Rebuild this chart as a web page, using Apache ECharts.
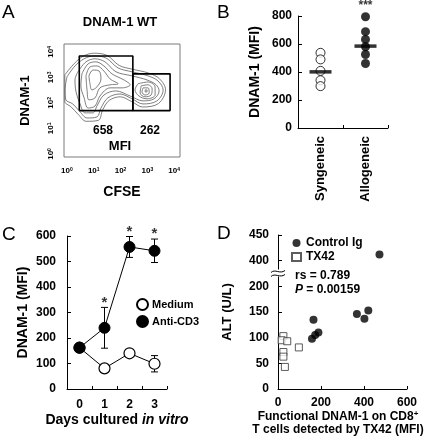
<!DOCTYPE html>
<html><head><meta charset="utf-8">
<script src="https://cdn.jsdelivr.net/npm/echarts@6/dist/echarts.min.js"></script>
<style>html,body{margin:0;padding:0;background:#fff}#c{width:424px;height:442px}</style>
</head><body><div id="c"></div>
<script>
const FONT = "'Liberation Sans', Arial, sans-serif";

// ---------- Panel A: flow-cytometry contours (log10 units of CFSE / DNAM-1) ----------
const ring0 = [[-0.08,3.10],[0.28,3.55],[0.62,3.84],[1.02,3.95],[1.50,3.86],[1.95,3.47],[2.45,3.32],[3.05,3.17],[3.45,2.95],[3.68,2.52],[3.42,1.98],[2.83,1.84],[2.42,2.05],[1.99,2.24],[1.58,2.10],[1.33,1.72],[1.18,1.32],[0.72,1.28],[0.42,1.55],[0.15,1.85],[-0.08,2.05],[-0.08,2.55]];
const ring1 = [[0.00,3.02],[0.30,3.45],[0.64,3.73],[1.01,3.84],[1.46,3.76],[1.91,3.37],[2.43,3.22],[3.03,3.06],[3.40,2.86],[3.59,2.51],[3.36,2.08],[2.84,1.96],[2.43,2.16],[1.98,2.35],[1.53,2.20],[1.27,1.80],[1.12,1.45],[0.75,1.41],[0.49,1.65],[0.22,1.96],[-0.04,2.12],[-0.07,2.51]];
const ring2 = [[0.41,3.22],[0.71,3.61],[1.05,3.73],[1.42,3.61],[1.83,3.22],[2.43,3.06],[2.99,2.90],[3.33,2.71],[3.44,2.47],[3.25,2.16],[2.84,2.08],[2.36,2.27],[1.83,2.47],[1.38,2.31],[1.12,1.88],[0.97,1.61],[0.67,1.61],[0.49,1.96],[0.34,2.43],[0.30,2.90]];
const ring3L = [[0.56,3.14],[0.79,3.53],[1.08,3.61],[1.38,3.45],[1.68,3.14],[2.13,2.90],[2.36,2.71],[2.06,2.59],[1.61,2.59],[1.23,2.27],[1.05,1.88],[0.79,1.80],[0.64,2.20],[0.52,2.67]];
const ring3R = [[2.65,2.75],[3.03,2.82],[3.29,2.63],[3.29,2.31],[2.99,2.16],[2.69,2.27],[2.54,2.51]];
const ring4L = [[0.71,3.06],[0.86,3.41],[1.12,3.45],[1.38,3.25],[1.61,2.94],[1.91,2.75],[1.61,2.71],[1.23,2.59],[1.05,2.20],[0.82,2.12],[0.75,2.51]];
const ring4R = [[2.77,2.67],[3.03,2.71],[3.18,2.55],[3.14,2.31],[2.92,2.24],[2.73,2.39]];
const ring5L = [[0.82,3.06],[0.97,3.29],[1.20,3.25],[1.27,2.94],[1.12,2.63],[0.93,2.51],[0.86,2.75]];
const ring5R = [[2.84,2.59],[3.03,2.59],[3.07,2.39],[2.92,2.31],[2.80,2.43]];
const ring6R = [[2.92,2.51],[2.99,2.51],[2.99,2.43],[2.92,2.43]];
const gateLeft = [[0.46,1.70],[2.46,1.70],[2.46,3.84],[0.46,3.84]];
const gateRight = [[2.46,1.70],[3.85,1.70],[3.85,3.14],[2.46,3.14]];
const gateMFI = ['658','262'];
const logTicks = [0,1,2,3,4];

// ---------- Panel B ----------
const groupsB = ['Syngeneic','Allogeneic'];
const syngeneic = [537,490,408,341,299];
const allogeneic = [795,688,633,580,525,461];
const medianB = [401,585];

// ---------- Panel C ----------
const days = ['0','1','2','3'];
const mediumMean = [162,81,140,99];
const mediumErr = [0,0,0,32];
const antiCD3Mean = [162,240,557,542];
const antiCD3Err = [0,80,41,46];
const starDays = [1,2,3];

// ---------- Panel D ----------
const controlX = [165,158,173,188,367,402,420,472];
const controlY = [135,98,105,110,146,137,153,412];
const tx42X = [25,17,43,97,25,25,32];
const tx42Y = [103,95,93,81,72,63,43];
const altTicks = [0,50,100,150,200,400,450];
const breakLow = 200, breakHigh = 400, breakGap = 50;

// axis break mapping for panel D (values above the break are shifted down)
function brk(v){ return v <= breakLow ? v : v - (breakHigh - breakLow) + breakGap; }
function unbrk(d){ return d <= breakLow ? d : d + (breakHigh - breakLow) - breakGap; }

const bold = {fontFamily: FONT, fontWeight: 'bold', color: '#000'};
function logLabel(v){
  const r = Math.round(v);
  if (Math.abs(v - r) > 1e-6 || logTicks.indexOf(r) < 0) return '';
  return '{b|10}{s|' + r + '}';
}
const logRich = {b:{fontFamily:FONT,fontWeight:'bold',fontSize:8,color:'#000'}, s:{fontFamily:FONT,fontWeight:'bold',fontSize:5,color:'#000',verticalAlign:'top',padding:[0,0,3,0]}};

function ringSeries(r){
  return {type:'line', xAxisIndex:0, yAxisIndex:0, data:r.concat([r[0]]), symbol:'none', smooth:0.35,
    lineStyle:{color:'#5e5e5e', width:0.8}, silent:true, z:2};
}
function gateSeries(r){
  return {type:'line', xAxisIndex:0, yAxisIndex:0, data:r.concat([r[0]]), symbol:'none', smooth:false,
    lineStyle:{color:'#000', width:1.6}, silent:true, z:3};
}
function errRender(params, api){
  const x = api.value(0), lo = api.value(1), hi = api.value(2);
  if (!(hi - lo > 0)) return null;
  const a = api.coord([x, lo]), b = api.coord([x, hi]);
  const w = 3.5, st = {stroke:'#000', lineWidth:1};
  return {type:'group', children:[
    {type:'line', shape:{x1:a[0],y1:a[1],x2:b[0],y2:b[1]}, style:st},
    {type:'line', shape:{x1:a[0]-w,y1:a[1],x2:a[0]+w,y2:a[1]}, style:st},
    {type:'line', shape:{x1:b[0]-w,y1:b[1],x2:b[0]+w,y2:b[1]}, style:st}
  ]};
}

const axisLine = {show:true, lineStyle:{color:'#000', width:1}};
const tickIn = {show:true, inside:true, length:4, lineStyle:{color:'#000'}};
const lbl = Object.assign({fontSize:12}, bold);

const series = [];
[ring0, ring1, ring2, ring3L, ring3R, ring4L, ring4R, ring5L, ring5R, ring6R].forEach(r => series.push(ringSeries(r)));
series.push(gateSeries(gateLeft), gateSeries(gateRight));

// Panel B
series.push({type:'scatter', name:'Syngeneic', xAxisIndex:1, yAxisIndex:1, data:syngeneic.map(v=>[0,v]), symbol:'circle', symbolSize:9,
  itemStyle:{color:'#fff', borderColor:'#000', borderWidth:1}, z:2});
series.push({type:'scatter', name:'Allogeneic', xAxisIndex:1, yAxisIndex:1, data:allogeneic.map(v=>[1,v]), symbol:'circle', symbolSize:9,
  itemStyle:{color:'#000'}, z:2});
series.push({type:'scatter', xAxisIndex:1, yAxisIndex:1, data:medianB.map((v,i)=>[i,v]), symbol:'rect', symbolSize:[22,3.5],
  itemStyle:{color:'#000'}, z:4});
series.push({type:'scatter', xAxisIndex:1, yAxisIndex:1, data:[[1, Math.max.apply(null, allogeneic)]], symbolSize:9,
  itemStyle:{color:'transparent'}, label:Object.assign({show:true, position:'top', distance:1, formatter:'***', fontSize:12}, bold), z:5});

// Panel C
series.push({type:'custom', xAxisIndex:2, yAxisIndex:2, renderItem:errRender, encode:{x:0,y:[1,2]},
  data:days.map((d,i)=>[i, mediumMean[i]-mediumErr[i], mediumMean[i]+mediumErr[i]]), z:1});
series.push({type:'custom', xAxisIndex:2, yAxisIndex:2, renderItem:errRender, encode:{x:0,y:[1,2]},
  data:days.map((d,i)=>[i, antiCD3Mean[i]-antiCD3Err[i], antiCD3Mean[i]+antiCD3Err[i]]), z:1});
series.push({type:'line', name:'Medium', xAxisIndex:2, yAxisIndex:2, data:mediumMean, symbol:'circle', symbolSize:11,
  lineStyle:{color:'#000', width:1}, itemStyle:{color:'#fff', borderColor:'#000', borderWidth:1.2}, z:3});
series.push({type:'line', name:'Anti-CD3', xAxisIndex:2, yAxisIndex:2, data:antiCD3Mean, symbol:'circle', symbolSize:11,
  lineStyle:{color:'#000', width:1}, itemStyle:{color:'#000', borderColor:'#000', borderWidth:1}, z:3});
series.push({type:'scatter', xAxisIndex:2, yAxisIndex:2, data:starDays.map(i=>[i, antiCD3Mean[i]+antiCD3Err[i]]), symbolSize:1,
  itemStyle:{color:'transparent'}, label:Object.assign({show:true, position:'top', distance:-3, formatter:'*', fontSize:15}, bold), z:5});

// Panel D
series.push({type:'scatter', name:'Control Ig', xAxisIndex:3, yAxisIndex:3, data:controlX.map((x,i)=>[x, brk(controlY[i])]),
  symbol:'circle', symbolSize:8, itemStyle:{color:'#000'}, z:3});
series.push({type:'scatter', name:'TX42', xAxisIndex:3, yAxisIndex:3, data:tx42X.map((x,i)=>[x, brk(tx42Y[i])]),
  symbol:'rect', symbolSize:7, itemStyle:{color:'#fff', borderColor:'#333', borderWidth:1}, z:3});

const graphics = [
  {type:'text', left:2, top:3, style:{text:'A', font:'19px ' + FONT, fill:'#000'}},
  {type:'text', left:217, top:3, style:{text:'B', font:'19px ' + FONT, fill:'#000'}},
  {type:'text', left:2, top:225, style:{text:'C', font:'19px ' + FONT, fill:'#000'}},
  {type:'text', left:217, top:224, style:{text:'D', font:'19px ' + FONT, fill:'#000'}},
  {type:'text', x:120, y:22, style:{text:'DNAM-1 WT', font:'bold 13px ' + FONT, fill:'#000', textAlign:'center', textVerticalAlign:'middle'}},
  {type:'text', x:103, y:131, style:{text:gateMFI[0], font:'bold 12px ' + FONT, fill:'#000', textAlign:'center', textVerticalAlign:'middle'}},
  {type:'text', x:150, y:131, style:{text:gateMFI[1], font:'bold 12px ' + FONT, fill:'#000', textAlign:'center', textVerticalAlign:'middle'}},
  {type:'text', x:120, y:146, style:{text:'MFI', font:'bold 13px ' + FONT, fill:'#000', textAlign:'center', textVerticalAlign:'middle'}},
  {type:'text', x:295, y:276, style:{text:'rs = 0.789', font:'bold 12px ' + FONT, fill:'#000', textVerticalAlign:'middle'}},
  {type:'text', x:295, y:290, style:{text:'{i|P}{n| = 0.00159}', textVerticalAlign:'middle',
    rich:{i:{font:'italic bold 12px ' + FONT, fill:'#000'}, n:{font:'bold 12px ' + FONT, fill:'#000'}}}}
];

const option = {
  backgroundColor:'#fff',
  animation:false,
  textStyle:{fontFamily:FONT},
  grid:[
    {left:64, top:44, width:116, height:113, show:true, borderColor:'#7a7a7a', borderWidth:1, backgroundColor:'transparent', outerBoundsMode:'none'},
    {left:298, top:16, width:90, height:112, outerBoundsMode:'none'},
    {left:67, top:236, width:100, height:153, outerBoundsMode:'none'},
    {left:278, top:235, width:129, height:154, outerBoundsMode:'none'}
  ],
  xAxis:[
    {gridIndex:0, type:'value', min:-0.11, max:4.22, splitNumber:4, axisLine:{show:false}, axisTick:{show:false}, splitLine:{show:false},
      axisLabel:{margin:10, formatter:logLabel, rich:logRich, showMinLabel:false, showMaxLabel:false},
      name:'CFSE', nameLocation:'middle', nameGap:28, nameTextStyle:Object.assign({fontSize:14}, bold)},
    {gridIndex:1, type:'category', data:groupsB, axisLine:axisLine, axisTick:{show:true, inside:true, length:3, lineStyle:{color:'#000'}},
      axisLabel:Object.assign({rotate:90, margin:8, fontSize:13}, bold), splitLine:{show:false}},
    {gridIndex:2, type:'category', data:days, axisLine:axisLine, axisTick:{show:true, inside:true, length:3, lineStyle:{color:'#000'}},
      axisLabel:Object.assign({margin:10}, lbl), splitLine:{show:false},
      name:'{n|Days cultured }{i|in vitro}', nameLocation:'middle', nameGap:24,
      nameTextStyle:{rich:{n:Object.assign({fontSize:14}, bold), i:Object.assign({fontSize:14, fontStyle:'italic'}, bold)}}},
    {gridIndex:3, type:'value', min:0, max:600, interval:200, axisLine:axisLine, axisTick:{show:true, inside:true, length:3, lineStyle:{color:'#000'}},
      axisLabel:Object.assign({margin:8}, lbl), splitLine:{show:false},
      name:'{b|Functional DNAM-1 on CD8}{s|+}\n{b|T cells detected by TX42 (MFI)}', nameLocation:'middle', nameGap:16,
      nameTextStyle:{lineHeight:13, padding:[0,9,0,0], rich:{b:Object.assign({fontSize:12, lineHeight:13}, bold), s:Object.assign({fontSize:8, lineHeight:13, verticalAlign:'top'}, bold)}}}
  ],
  yAxis:[
    {gridIndex:0, type:'value', min:-0.12, max:4.31, splitNumber:4, axisLine:{show:false}, axisTick:{show:false}, splitLine:{show:false},
      axisLabel:{margin:9, rotate:90, formatter:logLabel, rich:logRich, showMinLabel:false, showMaxLabel:false},
      name:'DNAM-1', nameLocation:'middle', nameGap:32, nameTextStyle:Object.assign({fontSize:13}, bold)},
    {gridIndex:1, type:'value', min:0, max:800, interval:200, axisLine:axisLine, axisTick:tickIn, splitLine:{show:false},
      axisLabel:Object.assign({margin:6}, lbl),
      name:'DNAM-1 (MFI)', nameLocation:'middle', nameGap:36, nameTextStyle:Object.assign({fontSize:14}, bold)},
    {gridIndex:2, type:'value', min:0, max:600, interval:100, axisLine:axisLine, axisTick:tickIn, splitLine:{show:false},
      axisLabel:Object.assign({margin:11}, lbl),
      name:'DNAM-1 (MFI)', nameLocation:'middle', nameGap:37, nameTextStyle:Object.assign({fontSize:14}, bold)},
    {gridIndex:3, type:'value', min:0, max:brk(450), interval:50, axisLine:axisLine, axisTick:tickIn, splitLine:{show:false},
      axisLabel:Object.assign({margin:9, formatter:v => String(unbrk(v))}, lbl),
      name:'ALT (U/L)', nameLocation:'middle', nameGap:44, nameTextStyle:Object.assign({fontSize:13}, bold)}
  ],
  legend:[
    {orient:'vertical', left:131, top:293, itemGap:4, itemWidth:11, itemHeight:11, data:[{name:'Medium', icon:'circle'},{name:'Anti-CD3', icon:'circle'}],
      textStyle:Object.assign({fontSize:11, padding:[0,0,0,-1]}, bold), selectedMode:false},
    {orient:'vertical', left:286, top:232, itemGap:2, itemWidth:9, itemHeight:8, data:[{name:'Control Ig', icon:'circle'},{name:'TX42', icon:'rect'}],
      textStyle:Object.assign({fontSize:12, lineHeight:10, padding:[0,0,0,0]}, bold), selectedMode:false}
  ],
  graphic:{elements:graphics},
  series:series
};

const chart = echarts.init(document.getElementById('c'));
chart.setOption(option);

// axis-break mark on the ALT axis, placed through the axis scale
const bp = chart.convertToPixel({xAxisIndex:3, yAxisIndex:3}, [0, breakLow + breakGap/2]);
graphics.push(
  {type:'rect', shape:{x:bp[0]-7, y:bp[1]-4, width:14, height:7}, style:{fill:'#fff'}, z:50},
  {type:'bezierCurve', shape:{x1:bp[0]-7,y1:bp[1]-1,cpx1:bp[0]-3,cpy1:bp[1]-5,cpx2:bp[0]+2,cpy2:bp[1]+1,x2:bp[0]+7,y2:bp[1]-3}, style:{stroke:'#000', lineWidth:1, fill:null}, z:51},
  {type:'bezierCurve', shape:{x1:bp[0]-7,y1:bp[1]+3,cpx1:bp[0]-3,cpy1:bp[1]-1,cpx2:bp[0]+2,cpy2:bp[1]+5,x2:bp[0]+7,y2:bp[1]+1}, style:{stroke:'#000', lineWidth:1, fill:null}, z:51}
);
chart.setOption({graphic:{elements:graphics}});
</script></body></html>
